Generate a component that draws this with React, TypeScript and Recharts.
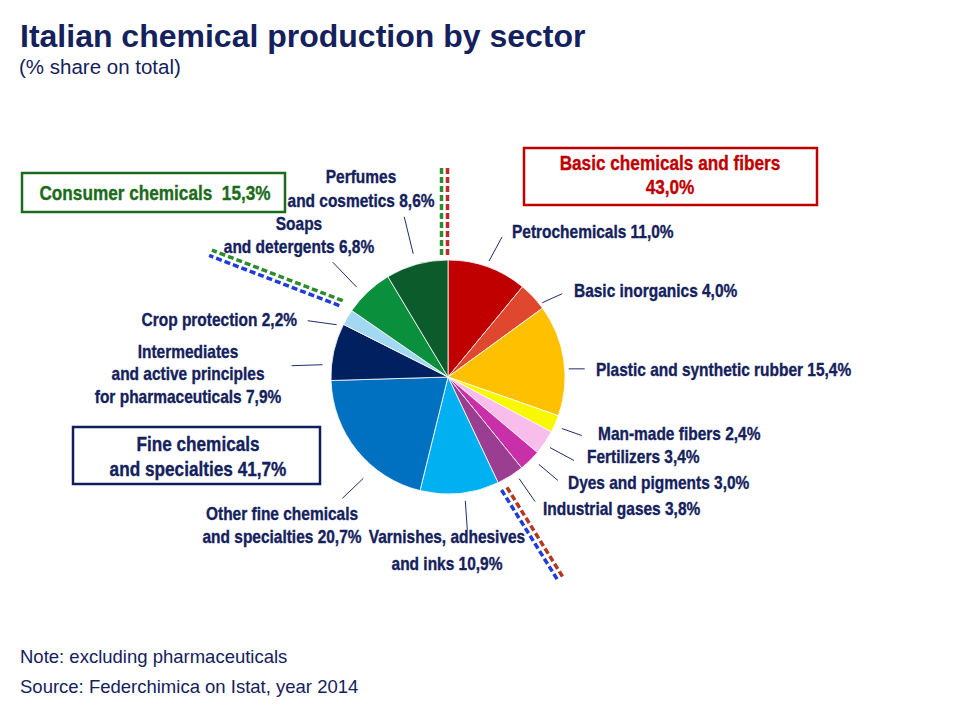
import { PieChart, Pie, Cell } from 'recharts'

// sectors, clockwise from 12 o'clock
const sectors = [
  'Petrochemicals',
  'Basic inorganics',
  'Plastic and synthetic rubber',
  'Man-made fibers',
  'Fertilizers',
  'Dyes and pigments',
  'Industrial gases',
  'Varnishes, adhesives\nand inks',
  'Other fine chemicals\nand specialties',
  'Intermediates\nand active principles\nfor pharmaceuticals',
  'Crop protection',
  'Soaps\nand detergents',
  'Perfumes\nand cosmetics',
]
const shares = [11.0, 4.0, 15.4, 2.4, 3.4, 3.0, 3.8, 10.9, 20.7, 7.9, 2.2, 6.8, 8.6]
const sectorColors = [
  '#C00000', '#E0472F', '#FFC000', '#F8F800', '#F9BDEB', '#C92FA8', '#9B3E92',
  '#00B0F0', '#0070C0', '#002060', '#A3D8F2', '#0A8F3C', '#0B5C2A',
]

const groups = ['Basic chemicals and fibers', 'Fine chemicals\nand specialties', 'Consumer chemicals']
const groupShares = [43.0, 41.7, 15.3]
const groupSizes = [7, 4, 2]

const CX = 448
const CY = 377
const R = 117
const NAVY = '#14215C'
const ARIAL = "'Liberation Sans', Arial, sans-serif"
const SQUEEZE = 0.86 // stands in for Arial Narrow
const RAD = Math.PI / 180

const data = sectors.map((name, i) => ({ name, value: shares[i] }))
const pct = (v: number) => v.toFixed(1).replace('.', ',') + '%'

// label placement: text anchor point, anchor, line height, leader line tweak
const labelLayout = [
  { x: 512, y: 238, anchor: 'start', lh: 23, da: -0.3, r: 123, dx: 13, dy: -24 },
  { x: 574, y: 297, anchor: 'start', lh: 23, da: 5, r: 120, dx: 20, dy: -9 },
  { x: 596, y: 376, anchor: 'start', lh: 23, da: 4.5, r: 121, dx: 16, dy: 0 },
  { x: 598, y: 440, anchor: 'start', lh: 23, da: 0.7, r: 125, dx: 20, dy: 7 },
  { x: 587, y: 463, anchor: 'start', lh: 23, da: 0.6, r: 124, dx: 24, dy: 13 },
  { x: 568, y: 489, anchor: 'start', lh: 23, da: -1.7, r: 126, dx: 19, dy: 16 },
  { x: 543, y: 515, anchor: 'start', lh: 23, da: -2.8, r: 124, dx: 16, dy: 23 },
  { x: 447, y: 543, anchor: 'middle', lh: 27, da: -2.2, r: 125, dx: 2, dy: 29 },
  { x: 282, y: 520, anchor: 'middle', lh: 23, da: -11.2, r: 132, dx: -21, dy: 20 },
  { x: 188, y: 358, anchor: 'middle', lh: 22.5, da: -6.9, r: 126, dx: -31, dy: 1 },
  { x: 297, y: 326, anchor: 'end', lh: 23, da: -5.5, r: 123, dx: -29, dy: -4 },
  { x: 299, y: 230, anchor: 'middle', lh: 23, da: -2.3, r: 128, dx: -24, dy: -25 },
  { x: 361, y: 183, anchor: 'middle', lh: 24, da: -0.3, r: 128, dx: -9, dy: -37 },
]

// dashed separators between groups: radii, end angle tweak, ccw-side offset per line
const separators = [
  { r0: 122, r1: 212, endDa: 0, lines: [{ c: '#2E8B2E', off: 6.5 }, { c: '#C0282A', off: 0.5 }] },
  { r0: 125, r1: 230, endDa: -3, lines: [{ c: '#B8361E', off: 6 }, { c: '#1E3BE0', off: 0 }] },
  { r0: 130, r1: 268, endDa: -7, lines: [{ c: '#1E3BE0', off: 3 }, { c: '#2E8B2E', off: -3 }] },
]

const total = shares.reduce((a, b) => a + b, 0)

// angle measured clockwise from 12 o'clock
function polarTop(angle: number, r: number) {
  return [CX + r * Math.sin(angle * RAD), CY - r * Math.cos(angle * RAD)]
}

// narrow bold text, squeezed horizontally about its anchor
function NarrowText({ x, y, lines, lh, anchor = 'start', size = 18, fill = NAVY }: any) {
  return (
    <g transform={`translate(${x},${y}) scale(${SQUEEZE},1)`}>
      <text
        x={0}
        y={0}
        textAnchor={anchor}
        fill={fill}
        stroke={fill}
        strokeWidth={0.35}
        fontFamily={ARIAL}
        fontWeight="bold"
        fontSize={size}
        style={{ whiteSpace: 'pre' }}
      >
        {lines.map((t: string, k: number) => (
          <tspan key={k} x={0} dy={k === 0 ? 0 : lh}>{t}</tspan>
        ))}
      </text>
    </g>
  )
}

function renderLabel(props: any) {
  const { index, midAngle, value, name } = props
  const L = labelLayout[index]
  const fromTop = 90 - midAngle + L.da
  const [sx, sy] = polarTop(fromTop, L.r)
  const lines = String(name).split('\n')
  lines[lines.length - 1] = lines[lines.length - 1] + ' ' + pct(value)
  return (
    <g key={'lbl' + index}>
      <line x1={sx} y1={sy} x2={sx + L.dx} y2={sy + L.dy} stroke="#1F2C6B" strokeWidth={1} />
      <NarrowText x={L.x} y={L.y} lines={lines} lh={L.lh} anchor={L.anchor} />
    </g>
  )
}

function Separators() {
  // cumulative share at each group boundary (start, after basic, after fine)
  const bounds: number[] = [0]
  let idx = 0
  let cum = 0
  groupSizes.slice(0, -1).forEach((n) => {
    for (let k = 0; k < n; k++) cum += shares[idx++]
    bounds.push(cum)
  })
  return (
    <>
      {bounds.map((b, i) => {
        const s = separators[i]
        const a0 = (b / total) * 360
        const a1 = a0 + s.endDa
        return s.lines.map((ln, j) => {
          // shift toward the counter-clockwise side
          const [x0, y0] = polarTop(a0, s.r0)
          const [x1, y1] = polarTop(a1, s.r1)
          return (
            <line
              key={i + '-' + j}
              x1={x0 - Math.cos(a0 * RAD) * ln.off}
              y1={y0 - Math.sin(a0 * RAD) * ln.off}
              x2={x1 - Math.cos(a1 * RAD) * ln.off}
              y2={y1 - Math.sin(a1 * RAD) * ln.off}
              stroke={ln.c}
              strokeWidth={3.5}
              strokeDasharray="6 3"
            />
          )
        })
      })}
    </>
  )
}

export default function App() {
  const fine = groups[1].split('\n')
  return (
    <div style={{ position: 'absolute', left: 0, top: 0, width: 960, height: 720, background: '#fff' }}>
      <PieChart
        width={960}
        height={720}
        margin={{ top: 0, right: 0, bottom: 0, left: 0 }}
        style={{ position: 'absolute', left: 0, top: 0 }}
      >
        <Pie
          data={data}
          dataKey="value"
          nameKey="name"
          cx={CX}
          cy={CY}
          outerRadius={R}
          startAngle={90}
          endAngle={-270}
          stroke="#ffffff"
          strokeWidth={0.8}
          label={renderLabel}
          labelLine={false}
          isAnimationActive={false}
        >
          {data.map((d, i) => (
            <Cell key={d.name} fill={sectorColors[i]} />
          ))}
        </Pie>
      </PieChart>

      <svg width={960} height={720} style={{ position: 'absolute', left: 0, top: 0, pointerEvents: 'none' }}>
        <text x={20} y={47} fill={NAVY} fontFamily={ARIAL} fontWeight="bold" fontSize={32}>
          Italian chemical production by sector
        </text>
        <text x={19} y={74} fill={NAVY} fontFamily={ARIAL} fontSize={20.5}>
          (% share on total)
        </text>

        <Separators />

        {/* group boxes */}
        <rect x={524} y={148} width={293} height={57} fill="none" stroke="#C00000" strokeWidth={2.5} />
        <NarrowText x={670} y={170} anchor="middle" size={20} lh={24} fill="#C00000" lines={[groups[0], pct(groupShares[0])]} />

        <rect x={73} y={427} width={247} height={57} fill="none" stroke="#0F1F5E" strokeWidth={2.5} />
        <NarrowText x={198} y={451} anchor="middle" size={20} lh={25} lines={[fine[0], fine[1] + ' ' + pct(groupShares[1])]} />

        <rect x={22} y={173} width={263} height={39} fill="none" stroke="#1C6B1C" strokeWidth={2.5} />
        <NarrowText x={155} y={200} anchor="middle" size={20} lh={24} fill="#1C6B1C" lines={[groups[2] + '  ' + pct(groupShares[2])]} />

        <text x={20} y={663} fill={NAVY} fontFamily={ARIAL} fontSize={18.5}>
          Note: excluding pharmaceuticals
        </text>
        <text x={20} y={693} fill={NAVY} fontFamily={ARIAL} fontSize={18.5}>
          Source: Federchimica on Istat, year 2014
        </text>
      </svg>
    </div>
  )
}
